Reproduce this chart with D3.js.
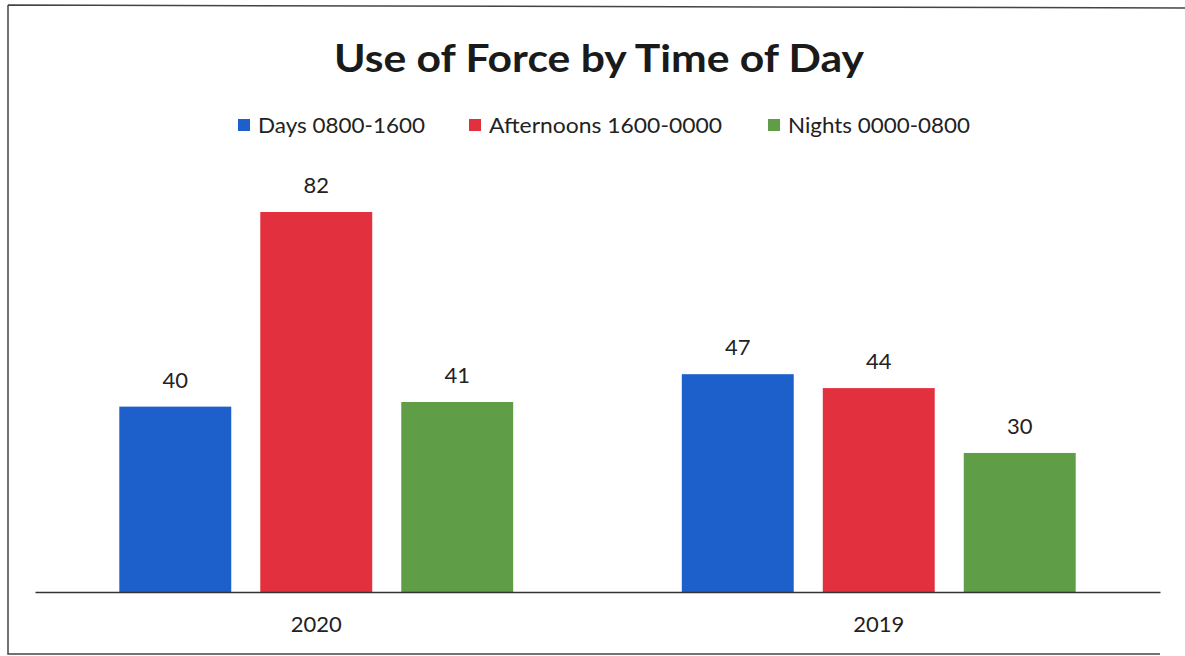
<!DOCTYPE html>
<html><head><meta charset="utf-8">
<script src="https://cdn.jsdelivr.net/npm/d3@7"></script>
<style>body{margin:0;background:#fff;}svg{display:block;}</style>
</head><body>
<svg id="chart" width="1185" height="656"></svg>
<script>
const categories = ["2020", "2019"];
const seriesNames = ["Days 0800-1600", "Afternoons 1600-0000", "Nights 0000-0800"];
const days = [40, 47];
const afternoons = [82, 44];
const nights = [41, 30];
const seriesValues = [days, afternoons, nights];
const colors = ["#1d5fcb", "#e3303f", "#5f9d47"];
const titleText = "Use of Force by Time of Day";

const svg = d3.select("#chart");
const font = "Lato, 'Open Sans', 'Noto Sans', sans-serif";
const left = 35, right = 1160, baseY = 592;

// border
svg.append("path").attr("d", "M8,5 L1185,8 M8,5 L8,654 L1160,654")
  .attr("fill", "none").attr("stroke", "#444").attr("stroke-width", 1.5);

const x0 = d3.scaleBand().domain(categories).range([left, right]).padding(0);
const x1 = d3.scaleBand().domain(seriesNames).range([0, x0.bandwidth()])
  .paddingInner(0.206).paddingOuter(0.598);
const y = d3.scaleLinear().domain([0, 82]).range([baseY, 212]);

const groups = svg.selectAll("g.grp").data(categories).join("g")
  .attr("transform", d => `translate(${x0(d)},0)`);

groups.each(function(cat, ci) {
  const g = d3.select(this);
  seriesNames.forEach((s, si) => {
    const v = seriesValues[si][ci];
    g.append("rect").attr("x", x1(s)).attr("y", y(v))
      .attr("width", x1.bandwidth()).attr("height", y(0) - y(v))
      .attr("fill", colors[si]);
    g.append("text").attr("x", x1(s) + x1.bandwidth() / 2).attr("y", y(v) - 19)
      .attr("text-anchor", "middle").attr("font-family", font)
      .attr("font-size", 22).attr("fill", "#222").text(v);
  });
});

// axis
const axis = d3.axisBottom(x0).tickSize(0).tickPadding(24);
const ax = svg.append("g").attr("transform", `translate(0,${baseY})`).call(axis);
ax.select(".domain").attr("stroke", "#333").attr("stroke-width", 1.3);
ax.selectAll("text").attr("font-family", font).attr("font-size", 22).attr("fill", "#222");

// title
svg.append("text").attr("x", 599).attr("y", 72).attr("text-anchor", "middle")
  .attr("font-family", font).attr("font-weight", "bold").attr("font-size", 38)
  .attr("fill", "#1a1a1a").attr("textLength", 530).attr("lengthAdjust", "spacingAndGlyphs")
  .text(titleText);

// legend
const legX = [238, 469, 768];
const legW = [167, 233, 182];
seriesNames.forEach((s, i) => {
  svg.append("rect").attr("x", legX[i]).attr("y", 119).attr("width", 12).attr("height", 12)
    .attr("fill", colors[i]);
  svg.append("text").attr("x", legX[i] + 20).attr("y", 133)
    .attr("font-family", font).attr("font-size", 22).attr("fill", "#222")
    .attr("textLength", legW[i]).attr("lengthAdjust", "spacingAndGlyphs").text(s);
});
</script>
</body></html>
